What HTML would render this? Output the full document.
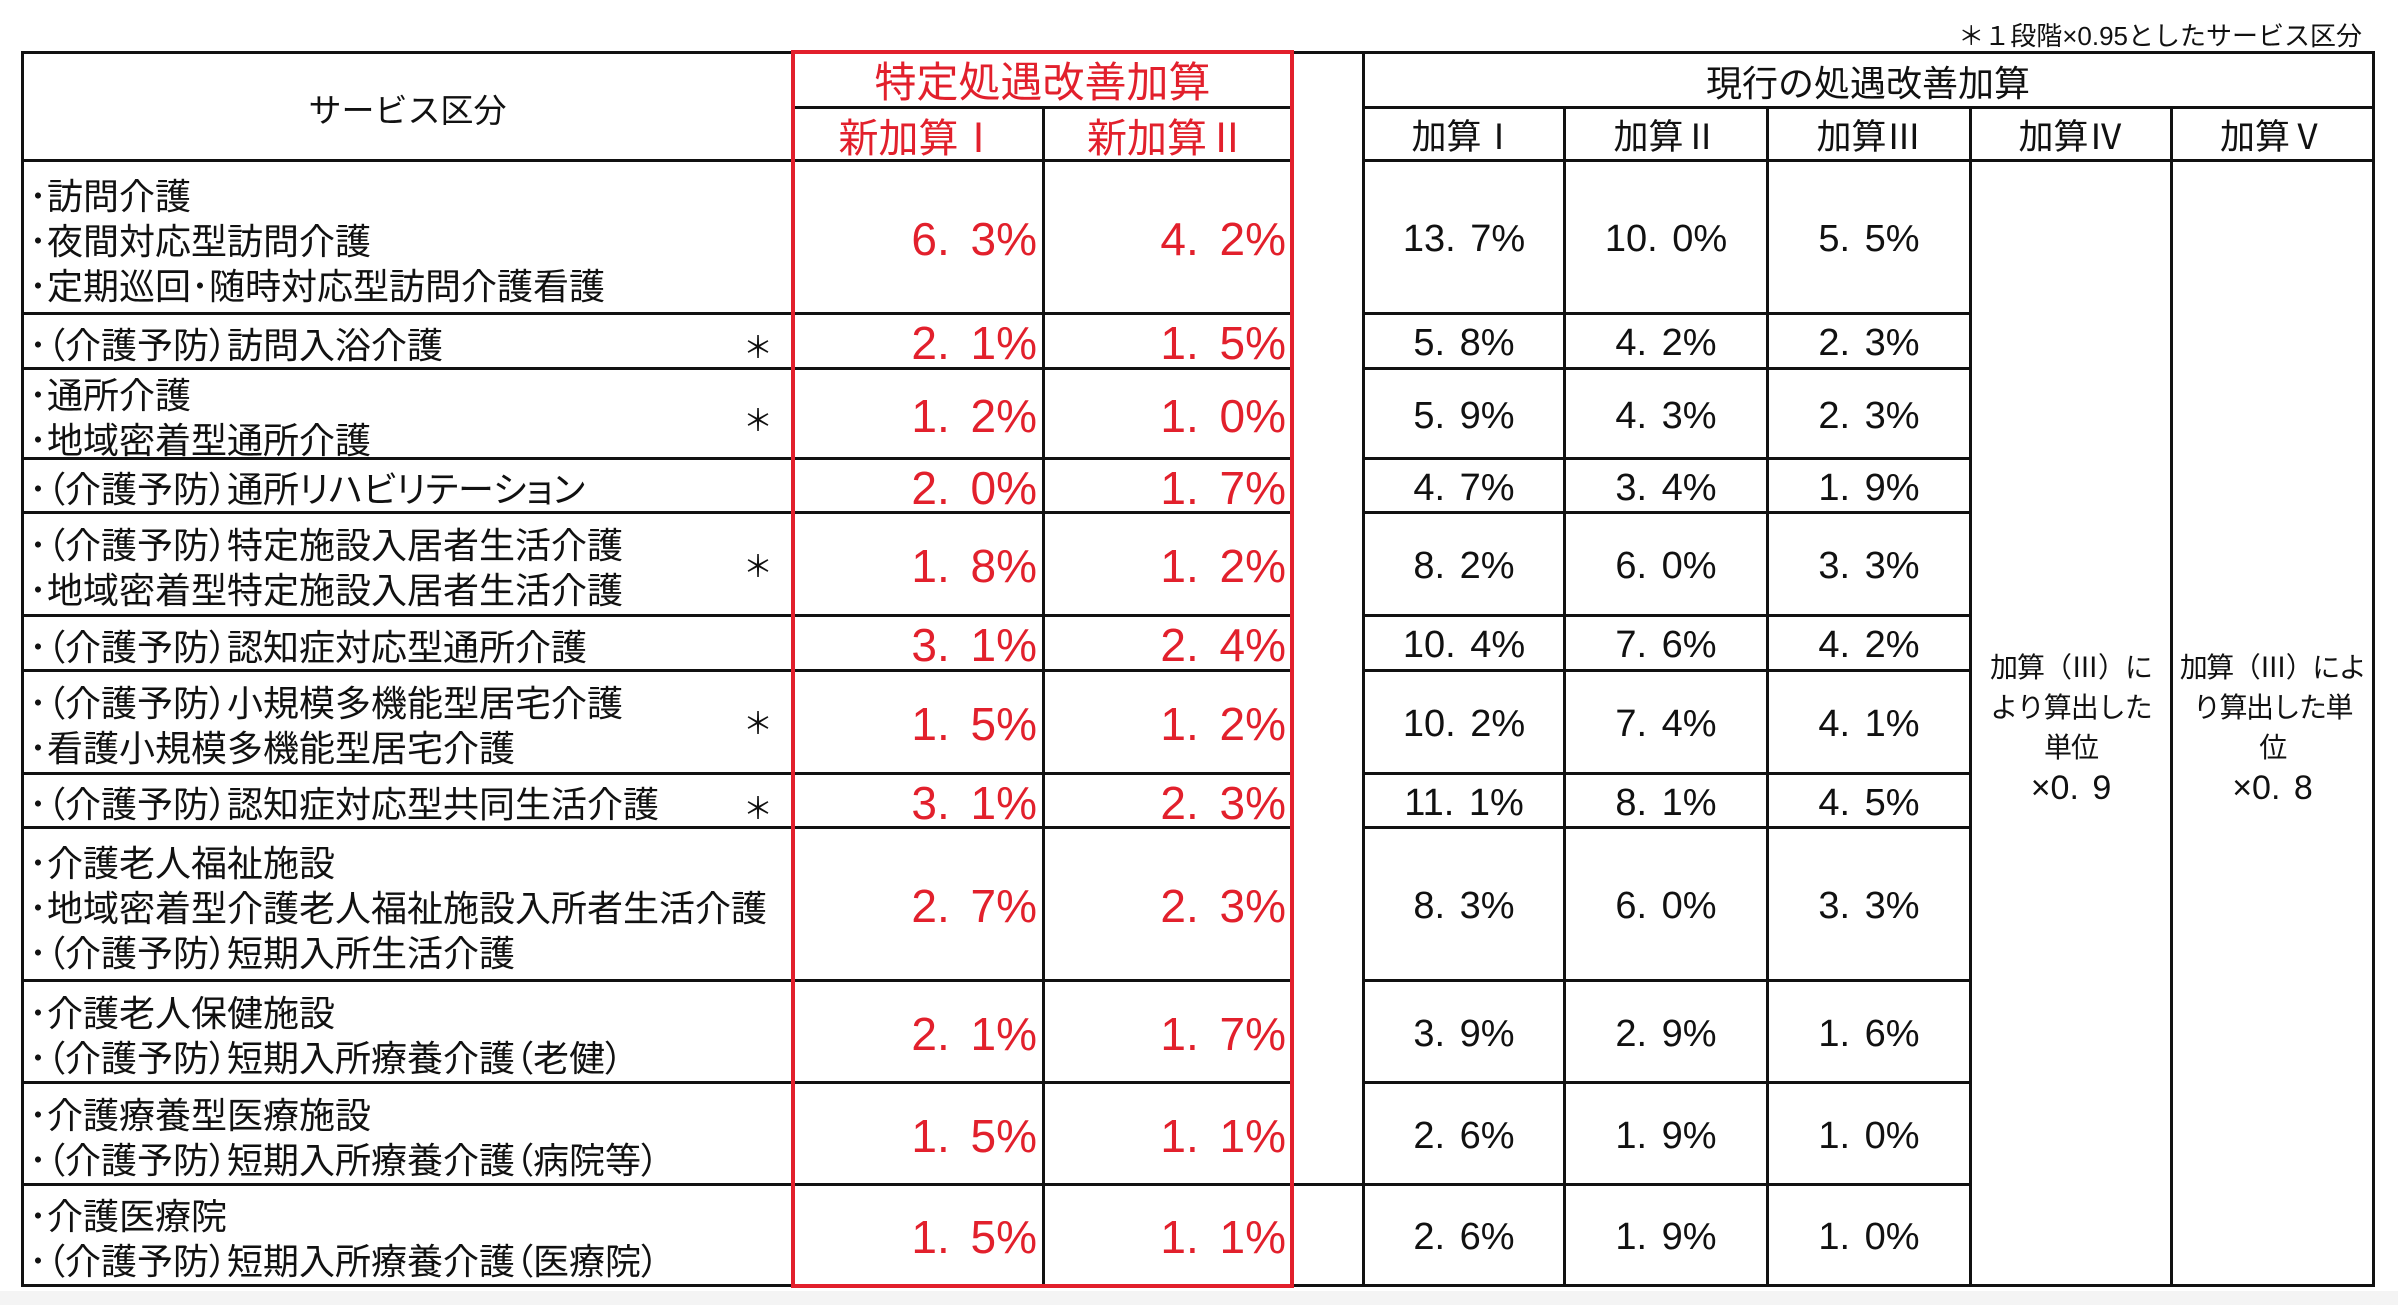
<!DOCTYPE html>
<html><head><meta charset="utf-8">
<style>
*{margin:0;padding:0;box-sizing:border-box}
html,body{width:2398px;height:1305px;background:#fff;overflow:hidden;position:relative;font-family:"Liberation Sans","Noto Sans CJK JP",sans-serif;color:#111}
.h{position:absolute;height:3px;background:#111}
.v{position:absolute;width:3px;background:#111}
.rh{position:absolute;height:4px;background:#e2202c}
.rv{position:absolute;width:4px;background:#e2202c}
.t{position:absolute;display:flex;align-items:center;justify-content:center;text-align:center;white-space:nowrap}
.red{color:#e2202c}
.col{position:absolute;top:160px;display:flex;flex-direction:column}
.col>div{display:flex;align-items:center;white-space:nowrap}
.a1{height:153px}.a2{height:55px}.a3{height:90px}.a4{height:54px}.a5{height:103px}.a6{height:55px}
.a7{height:103px}.a8{height:54px}.a9{height:153px}.a10{height:102px}.a11{height:102px}.a12{height:101px}
.lab{left:24px;width:767px;font-size:36px;line-height:45px;font-feature-settings:"palt" 1}
.lab>div{padding-left:5px;padding-top:9px}
.rn{font-size:46px;line-height:50px;color:#e2202c;word-spacing:8px}
.rn>div{justify-content:flex-end;padding-top:5px}
.bn{font-size:38px;line-height:44px;word-spacing:4px}
.bn>div{justify-content:center;padding-top:5px}
.star{position:absolute;left:743px;width:26px;height:40px;line-height:40px;text-align:center;font-size:30px;font-family:"Noto Sans CJK JP",sans-serif}
.hd{font-size:35px;line-height:42px}
.mx{font-family:"Liberation Sans",sans-serif;font-size:34px;letter-spacing:0;word-spacing:4px}
</style></head><body>

<div style="position:absolute;left:0;top:1291px;width:2398px;height:14px;background:#f4f4f4"></div>

<!-- footnote -->
<div style="position:absolute;right:36px;top:21px;font-size:26px;line-height:30px;white-space:nowrap">＊１段階×0.95としたサービス区分</div>

<!-- horizontal lines -->
<div class="h" style="left:21px;top:51px;width:2354px"></div>
<div class="h" style="left:793px;top:106px;width:499px"></div>
<div class="h" style="left:1363px;top:106px;width:1011px"></div>
<div class="h" style="left:21px;top:159px;width:1273px"></div>
<div class="h" style="left:1363px;top:159px;width:1011px"></div>

<div class="h" style="left:21px;top:312px;width:1273px"></div><div class="h" style="left:1363px;top:312px;width:609px"></div>
<div class="h" style="left:21px;top:367px;width:1273px"></div><div class="h" style="left:1363px;top:367px;width:609px"></div>
<div class="h" style="left:21px;top:457px;width:1273px"></div><div class="h" style="left:1363px;top:457px;width:609px"></div>
<div class="h" style="left:21px;top:511px;width:1273px"></div><div class="h" style="left:1363px;top:511px;width:609px"></div>
<div class="h" style="left:21px;top:614px;width:1273px"></div><div class="h" style="left:1363px;top:614px;width:609px"></div>
<div class="h" style="left:21px;top:669px;width:1273px"></div><div class="h" style="left:1363px;top:669px;width:609px"></div>
<div class="h" style="left:21px;top:772px;width:1273px"></div><div class="h" style="left:1363px;top:772px;width:609px"></div>
<div class="h" style="left:21px;top:826px;width:1273px"></div><div class="h" style="left:1363px;top:826px;width:609px"></div>
<div class="h" style="left:21px;top:979px;width:1273px"></div><div class="h" style="left:1363px;top:979px;width:609px"></div>
<div class="h" style="left:21px;top:1081px;width:1273px"></div><div class="h" style="left:1363px;top:1081px;width:609px"></div>
<div class="h" style="left:21px;top:1183px;width:1951px"></div>
<div class="h" style="left:21px;top:1284px;width:2354px"></div>

<!-- vertical lines -->
<div class="v" style="left:21px;top:51px;height:1236px"></div>
<div class="v" style="left:1042px;top:106px;height:1181px"></div>
<div class="v" style="left:1362px;top:51px;height:1236px"></div>
<div class="v" style="left:1563px;top:106px;height:1181px"></div>
<div class="v" style="left:1766px;top:106px;height:1181px"></div>
<div class="v" style="left:1969px;top:106px;height:1181px"></div>
<div class="v" style="left:2170px;top:106px;height:1181px"></div>
<div class="v" style="left:2372px;top:51px;height:1236px"></div>

<!-- red frame -->
<div class="rh" style="left:791px;top:50px;width:503px"></div>
<div class="rh" style="left:791px;top:1284px;width:503px"></div>
<div class="rv" style="left:791px;top:50px;height:1238px"></div>
<div class="rv" style="left:1290px;top:50px;height:1238px"></div>

<!-- headers -->
<div class="t" style="left:24px;top:53px;width:767px;height:107px;font-size:33px;line-height:40px;padding-top:9px">サービス区分</div>
<div class="t red" style="left:795px;top:54px;width:495px;height:53px;font-size:42px;line-height:48px;padding-top:4px">特定処遇改善加算</div>
<div class="t red" style="left:795px;top:109px;width:247px;height:50px;font-size:40px;line-height:46px;padding-top:9px">新加算Ⅰ</div>
<div class="t red" style="left:1044px;top:109px;width:246px;height:50px;font-size:40px;line-height:46px;padding-top:9px">新加算Ⅱ</div>
<div class="t" style="left:1364px;top:54px;width:1008px;height:53px;font-size:36px;line-height:42px;padding-top:7px">現行の処遇改善加算</div>
<div class="t hd" style="left:1364px;top:109px;width:200px;height:50px;padding-top:8px">加算Ⅰ</div>
<div class="t hd" style="left:1565px;top:109px;width:202px;height:50px;padding-top:8px">加算Ⅱ</div>
<div class="t hd" style="left:1768px;top:109px;width:202px;height:50px;padding-top:8px">加算Ⅲ</div>
<div class="t hd" style="left:1971px;top:109px;width:200px;height:50px;padding-top:8px">加算Ⅳ</div>
<div class="t hd" style="left:2172px;top:109px;width:201px;height:50px;padding-top:8px">加算Ⅴ</div>

<!-- labels -->
<div class="col lab">
<div class="a1"><span>･訪問介護<br>･夜間対応型訪問介護<br>･定期巡回･随時対応型訪問介護看護</span></div>
<div class="a2"><span>･（介護予防）訪問入浴介護</span></div>
<div class="a3"><span>･通所介護<br>･地域密着型通所介護</span></div>
<div class="a4"><span>･（介護予防）通所リハビリテーション</span></div>
<div class="a5"><span>･（介護予防）特定施設入居者生活介護<br>･地域密着型特定施設入居者生活介護</span></div>
<div class="a6"><span>･（介護予防）認知症対応型通所介護</span></div>
<div class="a7"><span>･（介護予防）小規模多機能型居宅介護<br>･看護小規模多機能型居宅介護</span></div>
<div class="a8"><span>･（介護予防）認知症対応型共同生活介護</span></div>
<div class="a9"><span>･介護老人福祉施設<br>･地域密着型介護老人福祉施設入所者生活介護<br>･（介護予防）短期入所生活介護</span></div>
<div class="a10"><span>･介護老人保健施設<br>･（介護予防）短期入所療養介護（老健）</span></div>
<div class="a11"><span>･介護療養型医療施設<br>･（介護予防）短期入所療養介護（病院等）</span></div>
<div class="a12"><span>･介護医療院<br>･（介護予防）短期入所療養介護（医療院）</span></div>
</div>

<!-- stars -->
<div class="star" style="top:325px">＊</div>
<div class="star" style="top:398px">＊</div>
<div class="star" style="top:544px">＊</div>
<div class="star" style="top:701px">＊</div>
<div class="star" style="top:786px">＊</div>

<!-- red numbers -->
<div class="col rn" style="left:795px;width:242px">
<div class="a1">6. 3%</div><div class="a2">2. 1%</div><div class="a3">1. 2%</div><div class="a4">2. 0%</div>
<div class="a5">1. 8%</div><div class="a6">3. 1%</div><div class="a7">1. 5%</div><div class="a8">3. 1%</div>
<div class="a9">2. 7%</div><div class="a10">2. 1%</div><div class="a11">1. 5%</div><div class="a12">1. 5%</div>
</div>
<div class="col rn" style="left:1044px;width:242px">
<div class="a1">4. 2%</div><div class="a2">1. 5%</div><div class="a3">1. 0%</div><div class="a4">1. 7%</div>
<div class="a5">1. 2%</div><div class="a6">2. 4%</div><div class="a7">1. 2%</div><div class="a8">2. 3%</div>
<div class="a9">2. 3%</div><div class="a10">1. 7%</div><div class="a11">1. 1%</div><div class="a12">1. 1%</div>
</div>

<!-- black numbers -->
<div class="col bn" style="left:1364px;width:200px">
<div class="a1">13. 7%</div><div class="a2">5. 8%</div><div class="a3">5. 9%</div><div class="a4">4. 7%</div>
<div class="a5">8. 2%</div><div class="a6">10. 4%</div><div class="a7">10. 2%</div><div class="a8">11. 1%</div>
<div class="a9">8. 3%</div><div class="a10">3. 9%</div><div class="a11">2. 6%</div><div class="a12">2. 6%</div>
</div>
<div class="col bn" style="left:1565px;width:202px">
<div class="a1">10. 0%</div><div class="a2">4. 2%</div><div class="a3">4. 3%</div><div class="a4">3. 4%</div>
<div class="a5">6. 0%</div><div class="a6">7. 6%</div><div class="a7">7. 4%</div><div class="a8">8. 1%</div>
<div class="a9">6. 0%</div><div class="a10">2. 9%</div><div class="a11">1. 9%</div><div class="a12">1. 9%</div>
</div>
<div class="col bn" style="left:1768px;width:202px">
<div class="a1">5. 5%</div><div class="a2">2. 3%</div><div class="a3">2. 3%</div><div class="a4">1. 9%</div>
<div class="a5">3. 3%</div><div class="a6">4. 2%</div><div class="a7">4. 1%</div><div class="a8">4. 5%</div>
<div class="a9">3. 3%</div><div class="a10">1. 6%</div><div class="a11">1. 0%</div><div class="a12">1. 0%</div>
</div>

<!-- merged cells -->
<div class="t" style="left:1971px;top:160px;width:200px;height:1125px;font-size:28px;line-height:40px;padding-top:12px;letter-spacing:-1px"><div>加算（Ⅲ）に<br>より算出した<br>単位<br><span class="mx">×0. 9</span></div></div>
<div class="t" style="left:2172px;top:160px;width:201px;height:1125px;font-size:28px;line-height:40px;padding-top:12px;letter-spacing:-1.5px"><div>加算（Ⅲ）によ<br>り算出した単<br>位<br><span class="mx">×0. 8</span></div></div>

</body></html>
